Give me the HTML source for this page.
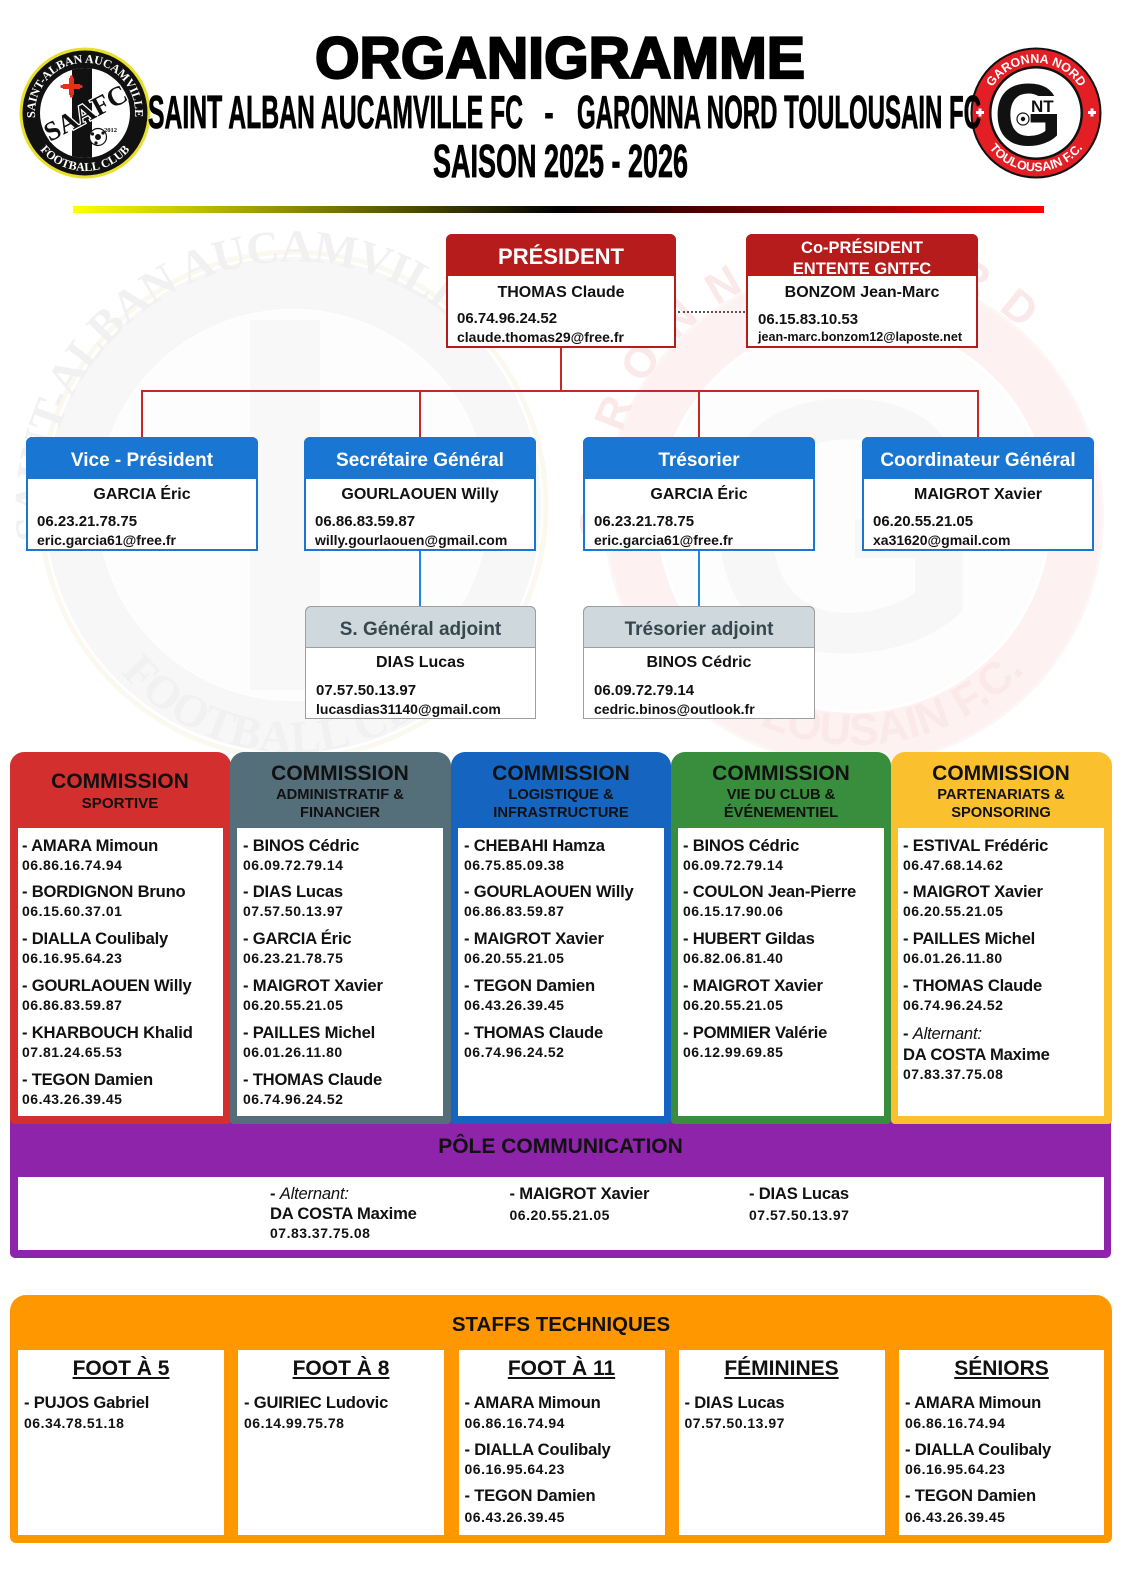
<!DOCTYPE html>
<html lang="fr">
<head>
<meta charset="utf-8">
<title>Organigramme SAAFC - GNTFC 2025-2026</title>
<style>
  html,body{margin:0;padding:0;}
  body{width:1122px;height:1586px;position:relative;background:#fff;overflow:hidden;
       font-family:"Liberation Sans",Arial,sans-serif;font-weight:bold;color:#111;}
  .a{position:absolute;box-sizing:border-box;}
  .t{position:absolute;white-space:nowrap;line-height:20px;height:20px;margin-top:1.5px;}
  .c{position:absolute;white-space:nowrap;line-height:20px;height:20px;text-align:center;margin-top:1.5px;}
  .nm{font-size:16.6px;letter-spacing:-0.2px;}
  .ph{font-size:14px;letter-spacing:0.5px;}
  .bn{font-size:16px;}
  .bp{font-size:15px;}
  .be{font-size:14px;}
  .it{font-style:italic;font-weight:normal;}
  .ch1{font-size:21px;}
  .ch2{font-size:14.7px;}
  .sh{font-size:21px;text-decoration:underline;text-decoration-thickness:2px;text-underline-offset:2px;}
</style>
</head>
<body>

<!-- Watermarks -->
<svg class="a" style="left:0;top:0" width="1122" height="1586" viewBox="0 0 1122 1586">
  <defs>
    <path id="wl" d="M48,540 A247,247 0 1 1 538,540"/>
    <path id="wlb" d="M80,600 A225,225 0 0 0 506,600"/>
    <path id="wr" d="M612,540 A245,245 0 1 1 1098,540"/>
    <path id="wrb" d="M640,600 A232,232 0 0 0 1070,600"/>
  </defs>
  <circle cx="293" cy="505" r="253" fill="none" stroke="#faf8ef" stroke-width="5"/>
  <circle cx="293" cy="505" r="222" fill="none" stroke="#f7f7f7" stroke-width="52"/>
  <circle cx="293" cy="505" r="195" fill="#fdfdfd"/>
  <rect x="250" y="320" width="70" height="370" fill="#f8f8f8"/>
  <text font-family="Liberation Serif" font-size="46" font-weight="bold" fill="#f1f1f1"><textPath href="#wl" textLength="620">SAINT-ALBAN AUCAMVILLE</textPath></text>
  <text font-family="Liberation Serif" font-size="46" font-weight="bold" fill="#f1f1f1" text-anchor="middle"><textPath href="#wlb" startOffset="50%">FOOTBALL CLUB</textPath></text>
  <circle cx="854" cy="516" r="248" fill="none" stroke="#fdf6f6" stroke-width="4"/>
  <circle cx="854" cy="516" r="222" fill="none" stroke="#fdf1f1" stroke-width="50"/>
  <circle cx="854" cy="516" r="194" fill="#fdfdfd"/>
  <text x="705" y="650" font-family="Liberation Sans" font-size="360" font-weight="bold" fill="#f7f7f7">G</text>
  <text font-family="Liberation Sans" font-size="44" font-weight="bold" fill="#fbe8e8"><textPath href="#wr" textLength="600">GARONNA NORD</textPath></text>
  <text font-family="Liberation Sans" font-size="44" font-weight="bold" fill="#fbe8e8" text-anchor="middle"><textPath href="#wrb" startOffset="50%">TOULOUSAIN F.C.</textPath></text>
</svg>

<!-- Header -->
<svg class="a" style="left:0;top:0" width="1122" height="225" viewBox="0 0 1122 225">
  <defs>
    <linearGradient id="bar" x1="0" x2="1" y1="0" y2="0">
      <stop offset="0" stop-color="#ffff00"/>
      <stop offset="0.5" stop-color="#000000"/>
      <stop offset="1" stop-color="#ff0000"/>
    </linearGradient>
    <path id="lt" d="M35.8,121.7 A50,50 0 1 1 134.2,121.7"/>
    <path id="lb" d="M34.8,142 A58,58 0 0 0 135.2,142"/>
    <path id="rt" d="M986.5,126 A51,51 0 1 1 1085.5,126"/>
    <path id="rb" d="M981.5,134 A58.5,58.5 0 0 0 1090.5,134"/>
    <clipPath id="lc"><circle cx="85" cy="113" r="45"/></clipPath>
  </defs>

  <!-- Left logo SAAFC -->
  <circle cx="85" cy="113" r="65.5" fill="#e8df2a"/>
  <circle cx="85" cy="113" r="62.5" fill="#111"/>
  <circle cx="85" cy="113" r="45" fill="#fff"/>
  <g clip-path="url(#lc)">
    <rect x="72" y="60" width="20" height="110" fill="#111"/>
  </g>
  <text font-family="Liberation Serif" font-size="12" font-weight="bold" fill="#fff"><textPath href="#lt" startOffset="4" textLength="166">SAINT-ALBAN AUCAMVILLE</textPath></text>
  <text font-family="Liberation Serif" font-size="12" font-weight="bold" fill="#fff" text-anchor="middle"><textPath href="#lb" startOffset="50%">FOOTBALL CLUB</textPath></text>
  <g fill="#e53020">
    <rect x="69" y="78" width="5" height="17"/>
    <rect x="63" y="84" width="17" height="5"/>
    <circle cx="71.5" cy="77" r="1.6"/><circle cx="71.5" cy="96" r="1.6"/>
    <circle cx="62" cy="86.5" r="1.6"/><circle cx="81" cy="86.5" r="1.6"/>
  </g>
  <text x="85" y="122" transform="rotate(-28 85 112)" text-anchor="middle" font-family="Liberation Serif" font-size="27" fill="#111" stroke="#fff" stroke-width="2.5" paint-order="stroke">SAAFC</text>
  <circle cx="98" cy="137" r="8.5" fill="#fff" stroke="#111" stroke-width="1.2"/>
  <circle cx="98" cy="137" r="3" fill="#111"/>
  <circle cx="92.5" cy="134" r="1.6" fill="#111"/><circle cx="103" cy="133" r="1.6" fill="#111"/><circle cx="96" cy="143" r="1.6" fill="#111"/>
  <text x="104" y="132" font-family="Liberation Serif" font-size="6.5" fill="#111">2012</text>

  <!-- Right logo GNT -->
  <circle cx="1036" cy="113" r="65.5" fill="#111"/>
  <circle cx="1036" cy="113" r="63.5" fill="#e31e24"/>
  <circle cx="1036" cy="113" r="47" fill="#111"/>
  <circle cx="1036" cy="113" r="44.5" fill="#fff"/>
  <text font-family="Liberation Sans" font-size="12.5" font-weight="bold" fill="#fff" text-anchor="middle"><textPath href="#rt" startOffset="50%">GARONNA NORD</textPath></text>
  <text font-family="Liberation Sans" font-size="12.5" font-weight="bold" fill="#fff" text-anchor="middle"><textPath href="#rb" startOffset="50%">TOULOUSAIN F.C.</textPath></text>
  <g fill="#fff">
    <rect x="976" y="111" width="8" height="3"/><rect x="978.5" y="108.5" width="3" height="8"/>
    <rect x="1088" y="111" width="8" height="3"/><rect x="1090.5" y="108.5" width="3" height="8"/>
  </g>
  <text x="994" y="145" font-family="Liberation Sans" font-size="88" font-weight="bold" fill="#111">G</text>
  <rect x="1030" y="96" width="30" height="18" fill="#fff"/>
  <text x="1031" y="112" font-family="Liberation Sans" font-size="17" font-weight="bold" fill="#111">NT</text>
  <circle cx="1023" cy="119" r="6" fill="#fff" stroke="#111" stroke-width="1.2"/>
  <circle cx="1023" cy="119" r="2.2" fill="#111"/>

  <!-- Titles -->
  <text x="315" y="78" font-family="Liberation Sans" font-size="58" font-weight="bold" fill="#000" stroke="#000" stroke-width="2.2" textLength="490" lengthAdjust="spacingAndGlyphs">ORGANIGRAMME</text>
  <text x="148" y="128" font-family="Liberation Sans" font-size="46" font-weight="bold" fill="#000" stroke="#000" stroke-width="0.8" textLength="375" lengthAdjust="spacingAndGlyphs">SAINT ALBAN AUCAMVILLE FC</text>
  <text x="544" y="128" font-family="Liberation Sans" font-size="46" font-weight="bold" fill="#000" textLength="10" lengthAdjust="spacingAndGlyphs">-</text>
  <text x="577" y="128" font-family="Liberation Sans" font-size="46" font-weight="bold" fill="#000" stroke="#000" stroke-width="0.8" textLength="404" lengthAdjust="spacingAndGlyphs">GARONNA NORD TOULOUSAIN FC</text>
  <text x="433" y="177" font-family="Liberation Sans" font-size="46" font-weight="bold" fill="#000" stroke="#000" stroke-width="0.8" textLength="255" lengthAdjust="spacingAndGlyphs">SAISON 2025 - 2026</text>

  <rect x="73" y="206" width="971" height="7" fill="url(#bar)"/>
</svg>

<!-- President -->
<div class="a" style="left:446px;top:234px;width:230px;height:114px;border:2px solid #b71c1c;border-radius:6px 6px 0 0;background:#fff;"></div>
<div class="a" style="left:446px;top:234px;width:230px;height:42px;background:#b71c1c;border-radius:6px 6px 0 0;"></div>
<div class="c" style="left:446px;width:230px;top:243.5px;line-height:24px;height:24px;font-size:22px;color:#fff;">PRÉSIDENT</div>
<div class="c bn" style="left:446px;width:230px;top:281.5px;">THOMAS Claude</div>
<div class="t bp" style="left:457px;top:307.5px;">06.74.96.24.52</div>
<div class="t be" style="left:457px;top:325.5px;">claude.thomas29@free.fr</div>

<!-- Co-president -->
<div class="a" style="left:746px;top:234px;width:232px;height:114px;border:2px solid #b71c1c;border-radius:6px 6px 0 0;background:#fff;"></div>
<div class="a" style="left:746px;top:234px;width:232px;height:42px;background:#b71c1c;border-radius:6px 6px 0 0;"></div>
<div class="c" style="left:746px;width:232px;top:236.5px;font-size:16.5px;color:#fff;">Co-PRÉSIDENT</div>
<div class="c" style="left:746px;width:232px;top:257px;font-size:16.5px;color:#fff;">ENTENTE GNTFC</div>
<div class="c bn" style="left:746px;width:232px;top:281.5px;">BONZOM Jean-Marc</div>
<div class="t bp" style="left:758px;top:308.5px;">06.15.83.10.53</div>
<div class="t" style="left:758px;top:325.5px;font-size:12.6px;">jean-marc.bonzom12@laposte.net</div>

<div class="a" style="left:678px;top:311px;width:67px;height:0;border-top:2px dotted #555;"></div>

<!-- Red connectors -->
<div class="a" style="left:560px;top:348px;width:2px;height:44px;background:#c62828;"></div>
<div class="a" style="left:141px;top:390px;width:838px;height:2px;background:#c62828;"></div>
<div class="a" style="left:141px;top:390px;width:2px;height:47px;background:#c62828;"></div>
<div class="a" style="left:419px;top:390px;width:2px;height:47px;background:#c62828;"></div>
<div class="a" style="left:698px;top:390px;width:2px;height:47px;background:#c62828;"></div>
<div class="a" style="left:977px;top:390px;width:2px;height:47px;background:#c62828;"></div>

<!-- Row 2 blue boxes -->
<div class="a" style="left:26px;top:437px;width:232px;height:114px;border:2px solid #1976d2;border-radius:6px 6px 0 0;background:#fff;"></div>
<div class="a" style="left:26px;top:437px;width:232px;height:42px;background:#1976d2;border-radius:6px 6px 0 0;"></div>
<div class="c" style="left:26px;width:232px;top:449.5px;font-size:19px;color:#fff;">Vice - Président</div>
<div class="c bn" style="left:26px;width:232px;top:483.5px;">GARCIA Éric</div>
<div class="t bp" style="left:37px;top:510.5px;">06.23.21.78.75</div>
<div class="t be" style="left:37px;top:528.5px;">eric.garcia61@free.fr</div>

<div class="a" style="left:304px;top:437px;width:232px;height:114px;border:2px solid #1976d2;border-radius:6px 6px 0 0;background:#fff;"></div>
<div class="a" style="left:304px;top:437px;width:232px;height:42px;background:#1976d2;border-radius:6px 6px 0 0;"></div>
<div class="c" style="left:304px;width:232px;top:449.5px;font-size:19px;color:#fff;">Secrétaire Général</div>
<div class="c bn" style="left:304px;width:232px;top:483.5px;">GOURLAOUEN Willy</div>
<div class="t bp" style="left:315px;top:510.5px;">06.86.83.59.87</div>
<div class="t be" style="left:315px;top:528.5px;">willy.gourlaouen@gmail.com</div>

<div class="a" style="left:583px;top:437px;width:232px;height:114px;border:2px solid #1976d2;border-radius:6px 6px 0 0;background:#fff;"></div>
<div class="a" style="left:583px;top:437px;width:232px;height:42px;background:#1976d2;border-radius:6px 6px 0 0;"></div>
<div class="c" style="left:583px;width:232px;top:449.5px;font-size:19px;color:#fff;">Trésorier</div>
<div class="c bn" style="left:583px;width:232px;top:483.5px;">GARCIA Éric</div>
<div class="t bp" style="left:594px;top:510.5px;">06.23.21.78.75</div>
<div class="t be" style="left:594px;top:528.5px;">eric.garcia61@free.fr</div>

<div class="a" style="left:862px;top:437px;width:232px;height:114px;border:2px solid #1976d2;border-radius:6px 6px 0 0;background:#fff;"></div>
<div class="a" style="left:862px;top:437px;width:232px;height:42px;background:#1976d2;border-radius:6px 6px 0 0;"></div>
<div class="c" style="left:862px;width:232px;top:449.5px;font-size:19px;color:#fff;">Coordinateur Général</div>
<div class="c bn" style="left:862px;width:232px;top:483.5px;">MAIGROT Xavier</div>
<div class="t bp" style="left:873px;top:510.5px;">06.20.55.21.05</div>
<div class="t be" style="left:873px;top:528.5px;">xa31620@gmail.com</div>

<!-- Blue connectors -->
<div class="a" style="left:419px;top:551px;width:2px;height:55px;background:#1e88e5;"></div>
<div class="a" style="left:698px;top:551px;width:2px;height:55px;background:#1e88e5;"></div>

<!-- Row 3 grey boxes -->
<div class="a" style="left:305px;top:606px;width:231px;height:113px;border:1.5px solid #9e9e9e;border-radius:6px 6px 0 0;background:#fff;"></div>
<div class="a" style="left:305px;top:606px;width:231px;height:42px;background:#cfd8dc;border:1.5px solid #9e9e9e;border-radius:6px 6px 0 0;"></div>
<div class="c" style="left:305px;width:231px;top:618.5px;font-size:19px;color:#37474f;">S. Général adjoint</div>
<div class="c bn" style="left:305px;width:231px;top:651.5px;">DIAS Lucas</div>
<div class="t bp" style="left:316px;top:679px;">07.57.50.13.97</div>
<div class="t be" style="left:316px;top:697.5px;">lucasdias31140@gmail.com</div>

<div class="a" style="left:583px;top:606px;width:232px;height:113px;border:1.5px solid #9e9e9e;border-radius:6px 6px 0 0;background:#fff;"></div>
<div class="a" style="left:583px;top:606px;width:232px;height:42px;background:#cfd8dc;border:1.5px solid #9e9e9e;border-radius:6px 6px 0 0;"></div>
<div class="c" style="left:583px;width:232px;top:618.5px;font-size:19px;color:#37474f;">Trésorier adjoint</div>
<div class="c bn" style="left:583px;width:232px;top:651.5px;">BINOS Cédric</div>
<div class="t bp" style="left:594px;top:679px;">06.09.72.79.14</div>
<div class="t be" style="left:594px;top:697.5px;">cedric.binos@outlook.fr</div>

<!-- Purple band (behind columns) -->
<div class="a" style="left:10px;top:1118px;width:1101px;height:140px;background:#8e24aa;border-radius:0 0 5px 5px;"></div>
<div class="a" style="left:18px;top:1177px;width:1086px;height:73px;background:#fff;"></div>
<div class="c ch1" style="left:10px;width:1101px;top:1135.5px;">PÔLE COMMUNICATION</div>
<div class="t nm" style="left:270px;top:1182px;">- <span class="it">Alternant:</span></div>
<div class="t nm" style="left:270px;top:1202px;">DA COSTA Maxime</div>
<div class="t ph" style="left:270px;top:1221.4px;">07.83.37.75.08</div>
<div class="t nm" style="left:509.5px;top:1182px;">- MAIGROT Xavier</div>
<div class="t ph" style="left:509.5px;top:1203px;">06.20.55.21.05</div>
<div class="t nm" style="left:749px;top:1182px;">- DIAS Lucas</div>
<div class="t ph" style="left:749px;top:1203px;">07.57.50.13.97</div>

<!-- Commission columns -->
<!-- 1 Sportive -->
<div class="a" style="left:10px;top:752px;width:220.5px;height:372px;background:#d32f2f;border-radius:14px 14px 4px 4px;"></div>
<div class="a" style="left:18px;top:828px;width:205px;height:288px;background:#fff;"></div>
<div class="c ch1" style="left:10px;width:220px;top:770.5px;">COMMISSION</div>
<div class="c" style="left:10px;width:220px;top:792px;font-size:15.2px;">SPORTIVE</div>
<div class="t nm" style="left:22px;top:834px;">- AMARA Mimoun</div>
<div class="t ph" style="left:22px;top:853px;">06.86.16.74.94</div>
<div class="t nm" style="left:22px;top:880.9px;">- BORDIGNON Bruno</div>
<div class="t ph" style="left:22px;top:899.9px;">06.15.60.37.01</div>
<div class="t nm" style="left:22px;top:927.8px;">- DIALLA Coulibaly</div>
<div class="t ph" style="left:22px;top:946.8px;">06.16.95.64.23</div>
<div class="t nm" style="left:22px;top:974.7px;">- GOURLAOUEN Willy</div>
<div class="t ph" style="left:22px;top:993.7px;">06.86.83.59.87</div>
<div class="t nm" style="left:22px;top:1021.6px;">- KHARBOUCH Khalid</div>
<div class="t ph" style="left:22px;top:1040.6px;">07.81.24.65.53</div>
<div class="t nm" style="left:22px;top:1068.5px;">- TEGON Damien</div>
<div class="t ph" style="left:22px;top:1087.5px;">06.43.26.39.45</div>

<!-- 2 Administratif -->
<div class="a" style="left:230px;top:752px;width:221px;height:372px;background:#546e7a;border-radius:14px 14px 4px 4px;"></div>
<div class="a" style="left:237px;top:828px;width:206px;height:288px;background:#fff;"></div>
<div class="c ch1" style="left:230px;width:220px;top:762px;">COMMISSION</div>
<div class="c ch2" style="left:230px;width:220px;top:783px;">ADMINISTRATIF &amp;</div>
<div class="c ch2" style="left:230px;width:220px;top:801px;">FINANCIER</div>
<div class="t nm" style="left:243px;top:834px;">- BINOS Cédric</div>
<div class="t ph" style="left:243px;top:853px;">06.09.72.79.14</div>
<div class="t nm" style="left:243px;top:880.9px;">- DIAS Lucas</div>
<div class="t ph" style="left:243px;top:899.9px;">07.57.50.13.97</div>
<div class="t nm" style="left:243px;top:927.8px;">- GARCIA Éric</div>
<div class="t ph" style="left:243px;top:946.8px;">06.23.21.78.75</div>
<div class="t nm" style="left:243px;top:974.7px;">- MAIGROT Xavier</div>
<div class="t ph" style="left:243px;top:993.7px;">06.20.55.21.05</div>
<div class="t nm" style="left:243px;top:1021.6px;">- PAILLES Michel</div>
<div class="t ph" style="left:243px;top:1040.6px;">06.01.26.11.80</div>
<div class="t nm" style="left:243px;top:1068.5px;">- THOMAS Claude</div>
<div class="t ph" style="left:243px;top:1087.5px;">06.74.96.24.52</div>

<!-- 3 Logistique -->
<div class="a" style="left:451px;top:752px;width:220px;height:372px;background:#1565c0;border-radius:14px 14px 4px 4px;"></div>
<div class="a" style="left:458px;top:828px;width:206px;height:288px;background:#fff;"></div>
<div class="c ch1" style="left:451px;width:220px;top:762px;">COMMISSION</div>
<div class="c ch2" style="left:451px;width:220px;top:783px;">LOGISTIQUE &amp;</div>
<div class="c ch2" style="left:451px;width:220px;top:801px;">INFRASTRUCTURE</div>
<div class="t nm" style="left:464px;top:834px;">- CHEBAHI Hamza</div>
<div class="t ph" style="left:464px;top:853px;">06.75.85.09.38</div>
<div class="t nm" style="left:464px;top:880.9px;">- GOURLAOUEN Willy</div>
<div class="t ph" style="left:464px;top:899.9px;">06.86.83.59.87</div>
<div class="t nm" style="left:464px;top:927.8px;">- MAIGROT Xavier</div>
<div class="t ph" style="left:464px;top:946.8px;">06.20.55.21.05</div>
<div class="t nm" style="left:464px;top:974.7px;">- TEGON Damien</div>
<div class="t ph" style="left:464px;top:993.7px;">06.43.26.39.45</div>
<div class="t nm" style="left:464px;top:1021.6px;">- THOMAS Claude</div>
<div class="t ph" style="left:464px;top:1040.6px;">06.74.96.24.52</div>

<!-- 4 Vie du club -->
<div class="a" style="left:671px;top:752px;width:220px;height:372px;background:#388e3c;border-radius:14px 14px 4px 4px;"></div>
<div class="a" style="left:678px;top:828px;width:206px;height:288px;background:#fff;"></div>
<div class="c ch1" style="left:671px;width:220px;top:762px;">COMMISSION</div>
<div class="c ch2" style="left:671px;width:220px;top:783px;">VIE DU CLUB &amp;</div>
<div class="c ch2" style="left:671px;width:220px;top:801px;">ÉVÉNEMENTIEL</div>
<div class="t nm" style="left:683px;top:834px;">- BINOS Cédric</div>
<div class="t ph" style="left:683px;top:853px;">06.09.72.79.14</div>
<div class="t nm" style="left:683px;top:880.9px;">- COULON Jean-Pierre</div>
<div class="t ph" style="left:683px;top:899.9px;">06.15.17.90.06</div>
<div class="t nm" style="left:683px;top:927.8px;">- HUBERT Gildas</div>
<div class="t ph" style="left:683px;top:946.8px;">06.82.06.81.40</div>
<div class="t nm" style="left:683px;top:974.7px;">- MAIGROT Xavier</div>
<div class="t ph" style="left:683px;top:993.7px;">06.20.55.21.05</div>
<div class="t nm" style="left:683px;top:1021.6px;">- POMMIER Valérie</div>
<div class="t ph" style="left:683px;top:1040.6px;">06.12.99.69.85</div>

<!-- 5 Partenariats -->
<div class="a" style="left:891px;top:752px;width:220.5px;height:372px;background:#fbc02d;border-radius:14px 14px 4px 4px;"></div>
<div class="a" style="left:898px;top:828px;width:206px;height:288px;background:#fff;"></div>
<div class="c ch1" style="left:891px;width:220px;top:762px;">COMMISSION</div>
<div class="c ch2" style="left:891px;width:220px;top:783px;">PARTENARIATS &amp;</div>
<div class="c ch2" style="left:891px;width:220px;top:801px;">SPONSORING</div>
<div class="t nm" style="left:903px;top:834px;">- ESTIVAL Frédéric</div>
<div class="t ph" style="left:903px;top:853px;">06.47.68.14.62</div>
<div class="t nm" style="left:903px;top:880.9px;">- MAIGROT Xavier</div>
<div class="t ph" style="left:903px;top:899.9px;">06.20.55.21.05</div>
<div class="t nm" style="left:903px;top:927.8px;">- PAILLES Michel</div>
<div class="t ph" style="left:903px;top:946.8px;">06.01.26.11.80</div>
<div class="t nm" style="left:903px;top:974.7px;">- THOMAS Claude</div>
<div class="t ph" style="left:903px;top:993.7px;">06.74.96.24.52</div>
<div class="t nm" style="left:903px;top:1022px;">- <span class="it">Alternant:</span></div>
<div class="t nm" style="left:903px;top:1043.5px;">DA COSTA Maxime</div>
<div class="t ph" style="left:903px;top:1062.5px;">07.83.37.75.08</div>

<!-- Staffs techniques -->
<div class="a" style="left:10px;top:1295px;width:1102px;height:248px;background:#ff9800;border-radius:16px 16px 6px 6px;"></div>
<div class="c" style="left:10px;width:1102px;top:1313.5px;font-size:20.5px;">STAFFS TECHNIQUES</div>

<div class="a" style="left:18px;top:1350px;width:206px;height:185px;background:#fff;"></div>
<div class="a" style="left:238px;top:1350px;width:206px;height:185px;background:#fff;"></div>
<div class="a" style="left:458.5px;top:1350px;width:206px;height:185px;background:#fff;"></div>
<div class="a" style="left:678.5px;top:1350px;width:206px;height:185px;background:#fff;"></div>
<div class="a" style="left:899px;top:1350px;width:205px;height:185px;background:#fff;"></div>

<div class="c sh" style="left:18px;width:206px;top:1357.5px;">FOOT À 5</div>
<div class="c sh" style="left:238px;width:206px;top:1357.5px;">FOOT À 8</div>
<div class="c sh" style="left:458.5px;width:206px;top:1357.5px;">FOOT À 11</div>
<div class="c sh" style="left:678.5px;width:206px;top:1357.5px;">FÉMININES</div>
<div class="c sh" style="left:899px;width:205px;top:1357.5px;">SÉNIORS</div>

<div class="t nm" style="left:24px;top:1391.5px;">- PUJOS Gabriel</div>
<div class="t ph" style="left:24px;top:1411px;">06.34.78.51.18</div>

<div class="t nm" style="left:244px;top:1391.5px;">- GUIRIEC Ludovic</div>
<div class="t ph" style="left:244px;top:1411px;">06.14.99.75.78</div>

<div class="t nm" style="left:464.5px;top:1391.5px;">- AMARA Mimoun</div>
<div class="t ph" style="left:464.5px;top:1411px;">06.86.16.74.94</div>
<div class="t nm" style="left:464.5px;top:1438.5px;">- DIALLA Coulibaly</div>
<div class="t ph" style="left:464.5px;top:1457.5px;">06.16.95.64.23</div>
<div class="t nm" style="left:464.5px;top:1484.5px;">- TEGON Damien</div>
<div class="t ph" style="left:464.5px;top:1505px;">06.43.26.39.45</div>

<div class="t nm" style="left:684.5px;top:1391.5px;">- DIAS Lucas</div>
<div class="t ph" style="left:684.5px;top:1411px;">07.57.50.13.97</div>

<div class="t nm" style="left:905px;top:1391.5px;">- AMARA Mimoun</div>
<div class="t ph" style="left:905px;top:1411px;">06.86.16.74.94</div>
<div class="t nm" style="left:905px;top:1438.5px;">- DIALLA Coulibaly</div>
<div class="t ph" style="left:905px;top:1457.5px;">06.16.95.64.23</div>
<div class="t nm" style="left:905px;top:1484.5px;">- TEGON Damien</div>
<div class="t ph" style="left:905px;top:1505px;">06.43.26.39.45</div>

</body>
</html>
